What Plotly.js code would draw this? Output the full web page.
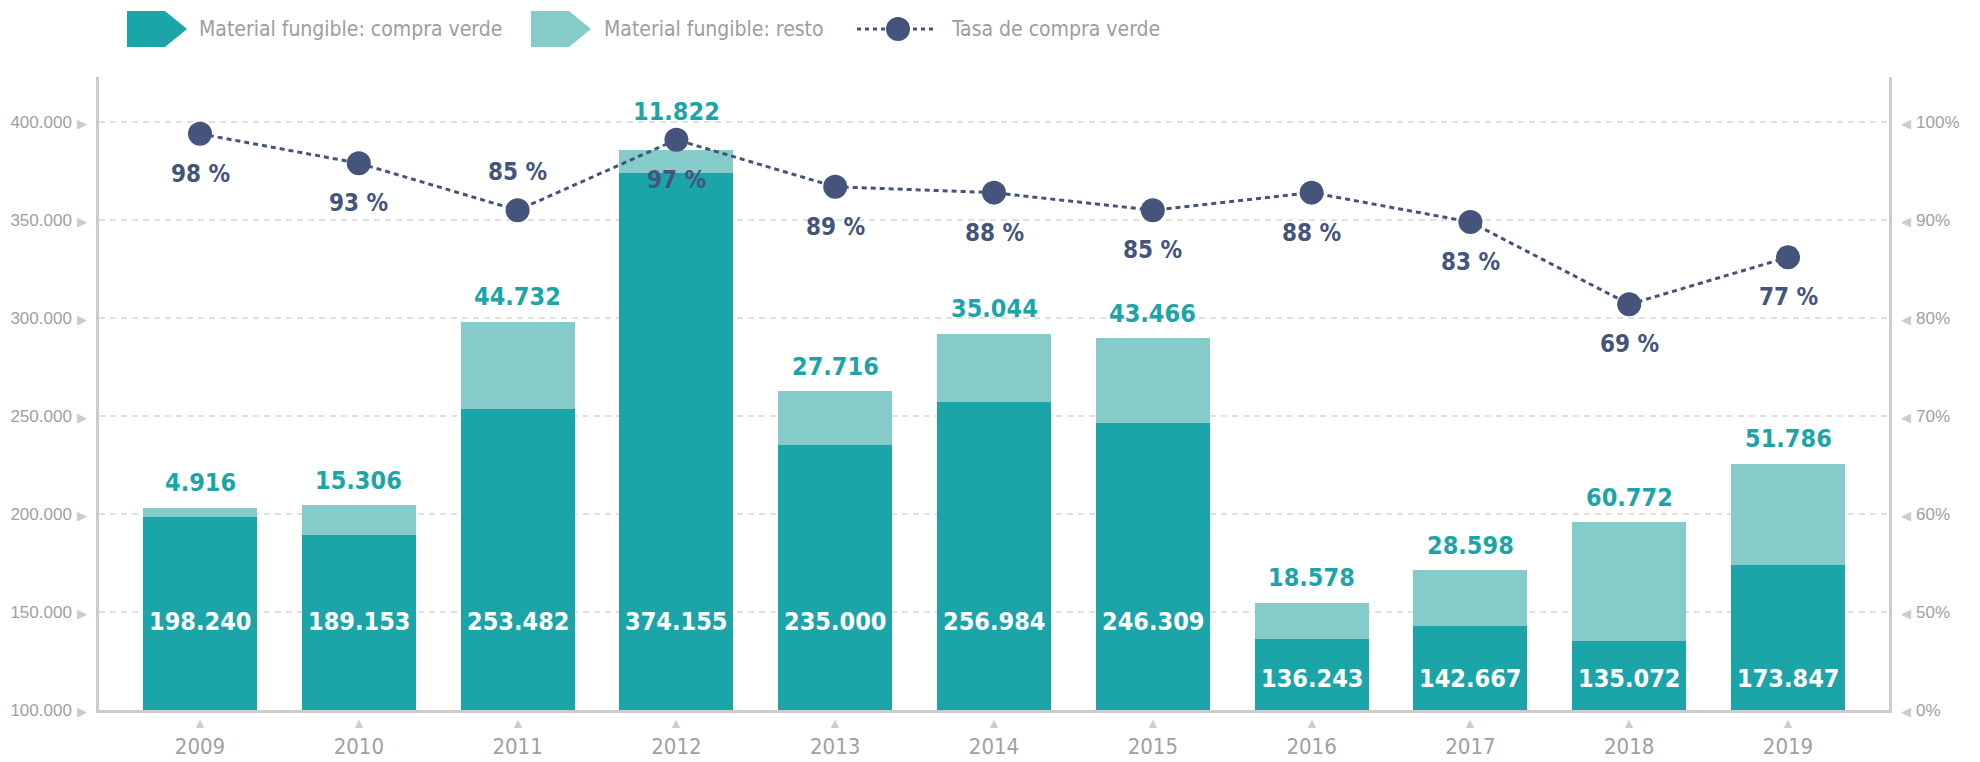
<!DOCTYPE html>
<html>
<head>
<meta charset="utf-8">
<script src="https://cdn.plot.ly/plotly-3.0.1.min.js"></script>
<style>
  html, body { margin: 0; padding: 0; background: #fff; }
  #chart { width: 1980px; height: 762px; }
</style>
</head>
<body>
<div id="chart"></div>
<script>
// values
const years = ['2009', '2010', '2011', '2012', '2013', '2014', '2015', '2016', '2017', '2018', '2019'];
const compraVerde = [198240, 189153, 253482, 374155, 235000, 256984, 246309, 136243, 142667, 135072, 173847];
const resto = [4916, 15306, 44732, 11822, 27716, 35044, 43466, 18578, 28598, 60772, 51786];
const tasaVerde = [98, 93, 85, 97, 89, 88, 85, 88, 83, 69, 77];

const leftTicks = [100000, 150000, 200000, 250000, 300000, 350000, 400000];
const rightTickText = ['0%', '50%', '60%', '70%', '80%', '90%', '100%'];

const legendNames = ['Material fungible: compra verde', 'Material fungible: resto', 'Tasa de compra verde'];

// look
const W = 1980, H = 762;
const M = { l: 99, r: 91, t: 77, b: 52 };
const DARK = '#1ca5a8';
const LIGHT = '#84cbca';
const NAVY = '#44547a';
const AXIS = '#cccccc';
const TICK = '#a0a0a0';
const NARROW = '"DejaVu Sans Condensed", "Liberation Sans Narrow", sans-serif';
const PLAIN = '"Liberation Sans", Arial, sans-serif';

const yMin = 100000, yTop = 400000, yMax = 423000;
const pctOf = v => (v - yMin) / (yTop - yMin) * 100;

function fmt(n) {
  return String(n).replace(/\B(?=(\d{3})+(?!\d))/g, '.');
}

// pixel -> paper helpers for the hand made legend
const px = x => (x - M.l) / (W - M.l - M.r);
const py = y => (H - M.b - y) / (H - M.t - M.b);

const traces = [
  {
    type: 'bar', x: years, y: compraVerde, name: legendNames[0],
    marker: { color: DARK }, showlegend: false, hoverinfo: 'skip'
  },
  {
    type: 'bar', x: years, y: resto, name: legendNames[1],
    marker: { color: LIGHT }, showlegend: false, hoverinfo: 'skip'
  },
  {
    type: 'scatter', mode: 'lines+markers', x: years, y: tasaVerde, yaxis: 'y2',
    name: legendNames[2], showlegend: false, hoverinfo: 'skip',
    line: { color: NAVY, width: 3, dash: '5px,4px' },
    marker: { color: NAVY, size: 24 }
  }
];

const annotations = [];

// category axes read numeric strings as indexes, so annotations use the index
years.forEach((yr, i) => {
  // white value inside the dark bar
  annotations.push({
    x: i, y: i < 7 ? 145400 : 116300, xref: 'x', yref: 'y',
    text: fmt(compraVerde[i]), showarrow: false, yanchor: 'middle',
    font: { family: NARROW, size: 25, color: '#ffffff', weight: 'bold' }
  });
  // teal value above the stack
  annotations.push({
    x: i, y: compraVerde[i] + resto[i], xref: 'x', yref: 'y',
    text: fmt(resto[i]), showarrow: false, yanchor: 'middle',
    yshift: i === 3 ? 38 : 25,
    font: { family: NARROW, size: 25, color: DARK, weight: 'bold' }
  });
  // rate label
  annotations.push({
    x: i, y: tasaVerde[i], xref: 'x', yref: 'y2',
    text: tasaVerde[i] + ' %', showarrow: false, yanchor: 'middle',
    yshift: i === 2 ? 38 : -40,
    font: { family: NARROW, size: 24, color: NAVY, weight: 'bold' }
  });
  // little triangle under each year
  annotations.push({
    x: i, y: 0, xref: 'x', yref: 'paper',
    text: '▲', showarrow: false, yanchor: 'middle', yshift: -13,
    font: { family: PLAIN, size: 14, color: AXIS }
  });
});

// legend texts
const legendText = [[197, legendNames[0]], [602, legendNames[1]], [949, legendNames[2]]];
legendText.forEach(([x, t]) => {
  annotations.push({
    x: px(x), y: py(29), xref: 'paper', yref: 'paper', text: t,
    showarrow: false, xanchor: 'left', yanchor: 'middle',
    font: { family: NARROW, size: 21, color: '#9a9ea1' }
  });
});

function arrowPath(x0) {
  const pts = [[x0, 11], [x0 + 38, 11], [x0 + 60, 29], [x0 + 38, 47], [x0, 47]];
  return 'M ' + pts.map(p => px(p[0]) + ',' + py(p[1])).join(' L ') + ' Z';
}

const shapes = [
  { type: 'path', xref: 'paper', yref: 'paper', path: arrowPath(127), fillcolor: DARK, line: { width: 0 } },
  { type: 'path', xref: 'paper', yref: 'paper', path: arrowPath(531), fillcolor: LIGHT, line: { width: 0 } },
  {
    type: 'line', xref: 'paper', yref: 'paper', x0: px(857), x1: px(933), y0: py(29), y1: py(29),
    line: { color: NAVY, width: 3, dash: '4px,4px' }
  },
  {
    type: 'circle', xref: 'paper', yref: 'paper', x0: px(886), x1: px(910), y0: py(17), y1: py(41),
    fillcolor: NAVY, line: { width: 0 }
  }
];

const layout = {
  width: W, height: H,
  margin: M,
  paper_bgcolor: '#ffffff', plot_bgcolor: '#ffffff',
  barmode: 'stack', bargap: 0.282,
  showlegend: false,
  xaxis: {
    type: 'category', range: [-0.636, 10.636],
    showline: true, linecolor: AXIS, linewidth: 3, layer: 'below traces',
    showgrid: false, ticks: '', ticklabelstandoff: 15,
    tickfont: { family: NARROW, size: 22, color: TICK },
    automargin: false, fixedrange: true
  },
  yaxis: {
    range: [yMin, yMax],
    tickvals: leftTicks,
    ticktext: leftTicks.map(v => fmt(v) + ' <span style="color:#cccccc;font-size:13px">▶</span>'),
    showline: true, linecolor: AXIS, linewidth: 3,
    showgrid: true, gridcolor: '#e0e0e0', gridwidth: 1.5, griddash: '6px,5px',
    zeroline: false, ticks: '', ticklabelstandoff: 6,
    tickfont: { family: PLAIN, size: 17, color: TICK },
    automargin: false, fixedrange: true
  },
  yaxis2: {
    overlaying: 'y', side: 'right',
    range: [0, pctOf(yMax)],
    tickvals: leftTicks.map(pctOf),
    ticktext: rightTickText.map(t => '<span style="color:#cccccc;font-size:13px">◀</span> ' + t),
    showline: true, linecolor: AXIS, linewidth: 3,
    showgrid: false, zeroline: false, ticks: '', ticklabelstandoff: 6,
    tickfont: { family: PLAIN, size: 17, color: TICK },
    automargin: false, fixedrange: true
  },
  annotations: annotations,
  shapes: shapes
};

Plotly.newPlot('chart', traces, layout, { staticPlot: true, displayModeBar: false });
</script>
</body>
</html>
